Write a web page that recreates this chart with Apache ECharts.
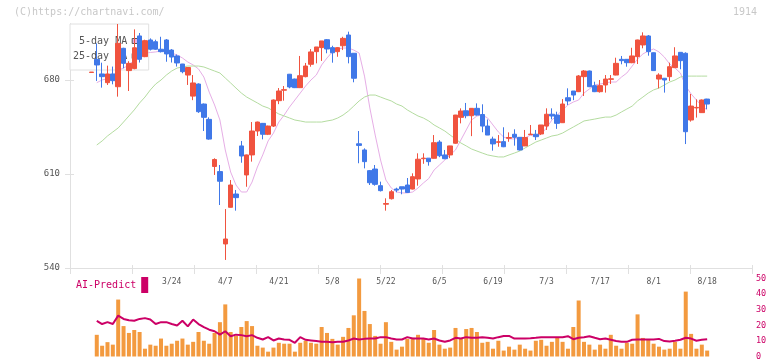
<!DOCTYPE html>
<html><head><meta charset="utf-8">
<script src="https://cdn.jsdelivr.net/npm/echarts@6/dist/echarts.min.js"></script>
<style>html,body{margin:0;padding:0;background:#fff}#c{width:772px;height:361px}</style>
</head><body><div id="c"></div>
<script>
const dates = ['2/28','3/3','3/4','3/5','3/6','3/7','3/10','3/11','3/12','3/13','3/14','3/17','3/18','3/19','3/21',
'3/24','3/25','3/26','3/27','3/28','3/31','4/1','4/2','4/3','4/4','4/7','4/8','4/9','4/10','4/11',
'4/14','4/15','4/16','4/17','4/18','4/21','4/22','4/23','4/24','4/25','4/28','4/30','5/1','5/2','5/7','5/8','5/9',
'5/12','5/13','5/14','5/15','5/16','5/19','5/20','5/21','5/22','5/23','5/26','5/27','5/28','5/29','5/30',
'6/2','6/3','6/4','6/5','6/6','6/9','6/10','6/11','6/12','6/13','6/16','6/17','6/18','6/19','6/20',
'6/23','6/24','6/25','6/26','6/27','6/30','7/1','7/2','7/3','7/4','7/7','7/8','7/9','7/10','7/11',
'7/14','7/15','7/16','7/17','7/18','7/22','7/23','7/24','7/25','7/28','7/29','7/30','7/31','8/1',
'8/4','8/5','8/6','8/7','8/8','8/12','8/13','8/14','8/15','8/18'];

const opens = [685.6,695.4,684.5,678,684.5,675,703.6,687,688.5,712.8,697.4,709.8,708.5,702.9,709.8,
702.3,697.9,691.9,683.7,668,677,662.1,650.7,615.6,611.8,557.9,585.2,595.1,630.9,609.3,
624.2,642,647.7,639.6,645.7,664.6,672.4,684.3,680.7,674.3,682.5,691.7,701.1,704.1,710,704.1,701.1,
705.5,713.5,699.9,632.5,627.9,612.5,613.7,601.3,587.5,591.6,598.8,600.5,601.8,598.8,606.3,
621.4,621.8,621.7,633.8,624.2,624.2,632.9,652.2,657.1,653.4,658.9,654.3,645.7,636,633.6,
634.1,636.6,639.6,637.3,630.9,639.3,639.6,639.8,645.7,654.5,653.9,648.2,666.8,671.8,671.3,
682.5,686.7,675.8,671.3,676.3,680.5,683.7,695.4,695.4,692.9,697.4,706.1,712.8,700.3,
680.7,681.3,682.5,689.2,700.6,699.9,650.2,659.2,655.7,665.8];
const closes = [685.9,691.2,682.5,684.5,679.5,707.3,692.4,692.4,704,695.4,709.3,702.9,702.9,701.1,699.4,
697.1,692.7,686.2,689.3,677.8,656.4,652.2,636,620.8,604.6,561.6,601.8,592.4,623.4,624.2,
642,648.7,639.6,645.7,665.1,671.8,672.8,674.8,674.3,683.2,690.4,700.9,704.6,709.1,703.1,700.3,704.1,
711,697.4,681.3,631.3,619.2,603.5,602.3,597.6,588,596.8,598,598.8,596.3,608,621,
621.8,619.2,633.3,623.6,621.4,630.9,653.9,656.9,653.4,658.9,653.9,645.7,639,632.4,634,
630.3,637.2,637.3,627.9,637.2,639.7,637.8,646.5,654.5,653.2,647.7,662.1,664.4,668.8,683,
686.7,675,671.3,675.8,680.7,680.9,692.4,694.4,692.9,697.9,709.8,712.8,701.1,687,
683.7,680,689.9,697.9,694.4,641.5,660.6,659.6,665.1,662.1];
const lows = [685.6,679.3,674.3,676.3,676.8,667.6,688.7,671.8,688,693,697,702,702.5,700.5,693.6,
693,690,685,676.3,665,655.5,642,635.5,609.3,586.9,546,585,582.7,618.4,600.5,
619.2,638.3,635.8,639,645,662,664.6,673.8,674,674,682,689.9,692.4,694.2,699.9,692.9,697.3,
702.3,692.4,678.3,618,614.2,601.8,601.3,597,582.7,591,596.4,594.9,596,598.5,601.3,
617.6,616.2,621.5,622.5,621,621.8,632.5,647.7,651.5,638.2,653.5,641.1,639,627.4,630.3,
630,634,631.1,627.5,630.8,639,635.3,639,642.8,650.7,643.6,648,661.4,665,671,
668.1,674.7,671,670.6,670.6,677,683.5,691.7,689.9,692.5,691.9,703.6,698.1,686.8,
673.8,670.6,679.3,689,688,632.3,649,652,655.5,658.4];
const highs = [685.9,707.3,692.9,690.7,690,721.7,704,694,717.7,715,710,711,710,712.2,710.5,
703,699,692,689.5,683.7,677.5,662.5,652.2,621.7,616.7,583.9,605.5,598.1,634.6,624.5,
648.7,649,648,646,665.5,674,675.5,684.5,681,697.9,692.7,703,704.6,709.1,710.5,705.5,704.5,
712.2,716,700,642,629.1,613,616.7,604.3,591.9,598.1,599.8,600.5,607,610.5,625.4,
625.4,621.8,639,635.2,627.9,631,654,658.9,662.9,659,662.6,661.9,650.6,637.8,639,
644.8,641,643.3,637.5,642.8,646.5,642.8,646.5,658.9,658.9,656.4,665.8,673.8,671.8,683.7,
687.4,687,678.7,680,683.7,683.7,696.6,697.9,695.5,704,710,715.5,713.5,700.5,
685,681.5,692.9,704.4,700.6,700.6,669.6,665.6,665.5,666];

const ma5 = [null,678,680,681,681.5,687,689,691,695,698,700.1,700.5,700.9,701.6,700.9,
700.1,698.6,696.4,693.4,691.2,688.2,682.2,671,661.4,650.2,627.9,611.5,601.8,596.6,596.6,
604,615.2,624.2,634.6,640.5,648.7,653.9,659.9,665.1,670.3,675.5,680,683.7,691.2,696.4,700.9,703.1,
703.8,703.8,702.3,700.1,682.9,659.2,639,620.4,605.5,599.6,596.6,595.9,595.9,596.6,599.6,
603.3,606.6,613,616.7,620.4,624.2,627.9,635.3,642.8,650.2,653.2,653.9,651.7,646.5,641.3,
637.5,636.1,636.1,636.8,636.8,639,637.5,639.8,644.3,650.2,653.9,657.7,661.4,663.6,665.1,
670.3,673.3,676.3,677,677.8,678.5,678.5,682.2,685.2,690.4,695.6,699.4,701.6,703.1,
700.9,697.1,691.9,688.9,685.2,675.5,669.6,665.1,660.6,657.7];
const ma25 = [null,631.6,634.6,638.3,641.3,644.3,648.7,653.2,657.7,662.9,667.3,672.6,677,680,683.7,
686.7,688.9,689.7,690.4,690.4,690.4,689.7,688.2,686.7,685.2,681.5,677.8,674,670.3,667.3,
665.1,662.9,660.6,659.2,656.9,654.7,653.2,651.7,650.2,649.5,648.7,648.7,648.7,648.7,649.5,650.2,651.7,
653.9,656.9,660.6,664.4,667.3,668.8,668.8,667.3,665.8,664.4,662.1,660.6,657.7,655.4,653.2,
651.7,649.5,646.5,644.3,642,639,636.1,633.1,630.9,628.6,627.1,625.6,624.2,623.4,622.7,
622.7,624.2,625.6,627.1,629.4,631.6,633.8,635.3,636.8,638.3,639,640.5,642.8,645,647.2,
649.5,650.2,650.9,651.7,652.4,652.4,653.9,656.2,658.4,660.6,664.4,667.3,670.3,672.6,
674,676.3,678.5,680,682.2,682.9,682.9,682.9,682.9,682.9];

const volume = [null,13.9,6.9,9.2,7.6,36.5,19.5,15.1,17,15.7,5,7.6,6.9,11.5,6.9,
8.2,10.1,11.5,7.6,9.4,15.7,10.1,8.2,15.1,22,33.4,15.7,13.2,18.9,22.7,
19.5,6.9,5.7,3.1,5.7,8.8,8.2,8.2,3.1,8.8,10.1,8.8,8.2,18.9,15.1,11.3,7.6,
12.6,18.3,26.4,50.4,29.2,20.8,13.2,8.2,22,9.4,4.4,6.3,11.3,12,13.9,
11.3,8.8,17,7.6,5,5.7,18.3,11.3,17.6,18.3,15.7,8.8,9.4,5,10.1,
3.8,6.3,4.4,7.6,5,3.8,10.1,10.7,6.9,9.4,11.9,9.4,5,18.9,35.9,
9.4,7.6,4.4,7.6,5,13.9,6.9,5,8.8,8.2,27,11.9,10.7,8.2,
6.3,4.4,5,9.4,5,41.6,14.5,5,7.6,3.8];
const aiPredict = [null,22.9,20.8,22,20.8,26.2,24.1,23.3,22.9,24.1,24.6,23.7,20.8,22,22,
20.8,19.9,22.9,19.3,23.7,20.8,18.8,17.2,16.2,14,16.2,13,14,13.7,13,
13.7,12,10.9,12.4,10.3,11.5,10.9,10.7,8.8,12.4,10.7,10.3,9.9,9.4,9.4,9.2,9.4,
9.4,10.3,11.5,10.9,11.3,11.5,11.5,12.4,12.4,11.5,10.9,10.9,12.4,11.5,11.5,
11.5,10.9,11.5,10.3,9.4,10.3,12,11.5,12.4,12,12,12.4,12,11.5,12.4,
13.2,13.2,11.5,11.5,11.5,11.7,12,12.4,12.4,12.4,12.4,12.4,13,11.1,12,
12.4,13,12,11.1,11.5,10.7,9.9,9.4,9.4,10.7,10.9,10.9,10.9,10.9,
11.3,9.9,9.6,10.1,10.7,12,11.5,10.1,10.7,11.1];

const priceTicks = [540, 610, 680];
const dateLabels = ['3/24','4/7','4/21','5/8','5/22','6/5','6/19','7/3','7/17','8/1','8/18'];
const subTicks = [0, 10, 20, 30, 40, 50];

const PAD_L = 4, PAD_R = 8;
const pad = a => [...Array(PAD_L).fill('-'), ...a.map(v => v == null ? '-' : v), ...Array(PAD_R).fill('-')];
const cats = [...Array.from({length: PAD_L}, (_, i) => 'L' + i), ...dates, ...Array.from({length: PAD_R}, (_, i) => 'R' + i)];
const candles = [...Array(PAD_L).fill('-'), ...dates.map((d, i) => [opens[i], closes[i], lows[i], highs[i]]), ...Array(PAD_R).fill('-')];

const MONO = 'DejaVu Sans Mono';
const AX = '#e0e0e0';
const chart = echarts.init(document.getElementById('c'), null, {renderer: 'canvas'});
chart.setOption({
  animation: false,
  backgroundColor: '#fff',
  graphic: [
    {type: 'text', left: 14, top: 7, style: {text: '(C)https://chartnavi.com/', fill: '#c8c8c8', font: '10px ' + MONO}},
    {type: 'text', right: 15, top: 7, style: {text: '1914', fill: '#c8c8c8', font: '10px ' + MONO}}
  ],
  legend: [
    {data: ['5-day MA', '25-day MA'], orient: 'vertical', left: 70, top: 24, align: 'right', icon: 'rect',
     itemWidth: 6, itemHeight: 5, itemGap: 5, padding: [12, 10, 9, 3], backgroundColor: '#fff',
     borderColor: AX, borderWidth: 1, z: 1, selectedMode: false,
     itemStyle: {borderColor: '#555', borderWidth: 1},
     formatter: n => n === '5-day MA' ? ' ' + n : n,
     textStyle: {fontFamily: MONO, fontSize: 10, color: '#555'}},
    {data: ['AI-Predict'], left: 76, top: 277, align: 'right', icon: 'rect', itemWidth: 7, itemHeight: 16,
     padding: 0, selectedMode: false,
     textStyle: {fontFamily: MONO, fontSize: 10, color: '#cc0066'}}
  ],
  grid: [
    {left: 70, top: 23.6, width: 680, height: 244.4},
    {left: 70, top: 23.6, right: 20, height: 244.4},
    {left: 70, top: 278.5, width: 680, height: 80}
  ],
  xAxis: [
    {type: 'category', gridIndex: 0, data: cats, boundaryGap: false,
     axisLine: {show: false}, axisTick: {show: false}, splitLine: {show: false},
     axisLabel: {interval: (i, v) => dateLabels.includes(v), margin: 10, fontFamily: MONO, fontSize: 8, color: '#555'}},
    {type: 'value', gridIndex: 1, min: 0, max: 11, interval: 1,
     axisLine: {show: true, lineStyle: {color: AX}}, axisTick: {show: true, length: 6, lineStyle: {color: AX}},
     axisLabel: {show: false}, splitLine: {show: false}},
    {type: 'value', gridIndex: 1, min: 0, max: 11, interval: 1, position: 'bottom',
     axisLine: {show: false}, axisTick: {show: true, inside: true, length: 3, lineStyle: {color: AX}},
     axisLabel: {show: false}, splitLine: {show: false}},
    {type: 'category', gridIndex: 2, data: cats, boundaryGap: false, show: false}
  ],
  yAxis: [
    {type: 'value', gridIndex: 0, min: 540, max: 722, position: 'left',
     axisLine: {show: true, lineStyle: {color: AX}},
     axisTick: {show: true, length: 5, customValues: priceTicks, lineStyle: {color: AX}},
     axisLabel: {customValues: priceTicks, margin: 10, fontFamily: MONO, fontSize: 9, color: '#555'},
     splitLine: {show: false}},
    {type: 'value', gridIndex: 0, min: 540, max: 722, position: 'left',
     axisLine: {show: false}, axisTick: {show: true, inside: true, length: 4, customValues: priceTicks, lineStyle: {color: AX}},
     axisLabel: {show: false}, splitLine: {show: false}},
    {type: 'value', gridIndex: 1, min: 0, max: 1, show: false},
    {type: 'value', gridIndex: 2, position: 'right', min: 0, max: 50, interval: 10,
     axisLine: {show: false}, axisTick: {show: false}, splitLine: {show: false},
     axisLabel: {customValues: subTicks, margin: 6, fontFamily: MONO, fontSize: 8.5, color: '#cc0066'}}
  ],
  series: [
    {type: 'candlestick', name: 'price', xAxisIndex: 0, yAxisIndex: 0, data: candles, barWidth: 5, z: 3,
     itemStyle: {color: '#f0533f', color0: '#4078e8', borderColor: '#f0533f', borderColor0: '#4078e8', borderWidth: 1}},
    {type: 'line', name: '5-day MA', xAxisIndex: 0, yAxisIndex: 0, data: pad(ma5), symbol: 'none', z: 2,
     color: '#e6aee6', lineStyle: {width: 1, color: '#e6aee6'}},
    {type: 'line', name: '25-day MA', xAxisIndex: 0, yAxisIndex: 0, data: pad(ma25), symbol: 'none', z: 2,
     color: '#b4dca0', lineStyle: {width: 1, color: '#b4dca0'}},
    {type: 'bar', name: 'volume', xAxisIndex: 3, yAxisIndex: 3, data: pad(volume), barWidth: 4,
     itemStyle: {color: '#f39a3f'}},
    {type: 'line', name: 'AI-Predict', xAxisIndex: 3, yAxisIndex: 3, data: pad(aiPredict), symbol: 'none',
     color: '#cc0066', lineStyle: {width: 2, color: '#cc0066'}}
  ]
});
</script></body></html>
